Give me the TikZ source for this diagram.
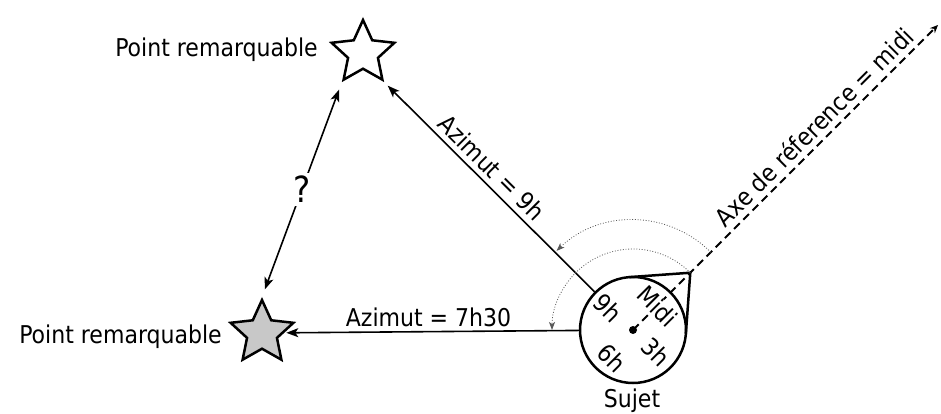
\documentclass[tikz,border=0pt]{standalone}
\usepackage{fontspec}
\setmainfont{DejaVu Sans Condensed}
\usetikzlibrary{shapes.geometric,arrows.meta,calc}
\definecolor{stargray}{RGB}{200,200,200}
\begin{document}
\begin{tikzpicture}[x=1pt,y=1pt,
  every node/.style={font=\fontsize{24.5}{29}\selectfont, inner sep=2pt},
  mainarrow/.style={line width=1.6pt, -{Stealth[length=12pt,width=9pt,inset=3pt]}},
  bothways/.style={line width=1.6pt, {Stealth[length=12pt,width=9pt,inset=3pt]}-{Stealth[length=12pt,width=9pt,inset=3pt]}},
  starnode/.style={star, star points=5, star point ratio=2.1, minimum size=66pt, inner sep=0pt, line width=2.5pt, draw},
  subject/.style={circle, draw, line width=2.5pt, minimum size=106pt, inner sep=0pt},
  axisline/.style={line width=2pt, dash pattern=on 8pt off 5pt, -{Stealth[length=8pt,width=7pt]}},
  arcline/.style={draw=black!65, line width=0.8pt, dash pattern=on 0.9pt off 1.8pt, -{Stealth[length=8pt,width=6pt,inset=2pt]}},
  hourlabel/.style={rotate=-45, inner sep=0pt},
]
\path[use as bounding box] (0,0) rectangle (941,-414);

% stars
\node[starnode, fill=white] (star1) at (363,-53) {};
\node[starnode, fill=stargray] (star2) at (262,-333) {};
\node[anchor=base east] (lab1) at (320,-57) {Point remarquable};
\node[anchor=base east] (lab2) at (224,-343) {Point remarquable};

% subject
\node[subject] (subj) at (633,-330) {};
\coordinate (tip) at ($(subj.center)+(45:81)$);
\coordinate (axend) at (938,-25);
\draw[line width=2.5pt, line join=miter] ($(subj.center)+(94.1:53)$) -- (tip) -- ($(subj.center)+(-4.1:53)$);

% reference axis
\draw[axisline] (subj.center) -- node[sloped, above=3pt, pos=0.63] (axlab) {Axe de réference = midi} (axend);

\fill (subj.center) circle[radius=4];
\node[hourlabel, fill=white] (midi) at ($(subj.center)+(44:34)$) {Midi};
\node[hourlabel] (h3) at ($(subj.center)+(-44:32)$) {3h};
\node[hourlabel] (h6) at ($(subj.center)+(-128:35)$) {6h};
\node[hourlabel] (h9) at ($(subj.center)+(139:33)$) {9h};
\node[anchor=base] (sujet) at (632,-407) {Sujet};

% azimuth arrows
\draw[mainarrow, shorten >=5pt] (subj) -- node[sloped, above=3pt, pos=0.54] (az9) {Azimut = 9h} (star1.outer point 4);
\draw[mainarrow, shorten >=2pt] (subj) -- node[above=2pt, pos=0.51] (az7) {Azimut = 7h30} (star2);

% distance question
\draw[bothways, shorten <=8pt, shorten >=8pt] (star1.outer point 3) -- node[fill=white, inner sep=3pt, font=\fontsize{36}{40}\selectfont] (q) {?} (star2.outer point 1);

% angle arcs
\draw[arcline] ($(subj.center)+(45:110)$) arc[start angle=45, end angle=134, radius=110];
\draw[arcline] (tip) arc[start angle=45, end angle=180, radius=81];
\end{tikzpicture}
\end{document}
